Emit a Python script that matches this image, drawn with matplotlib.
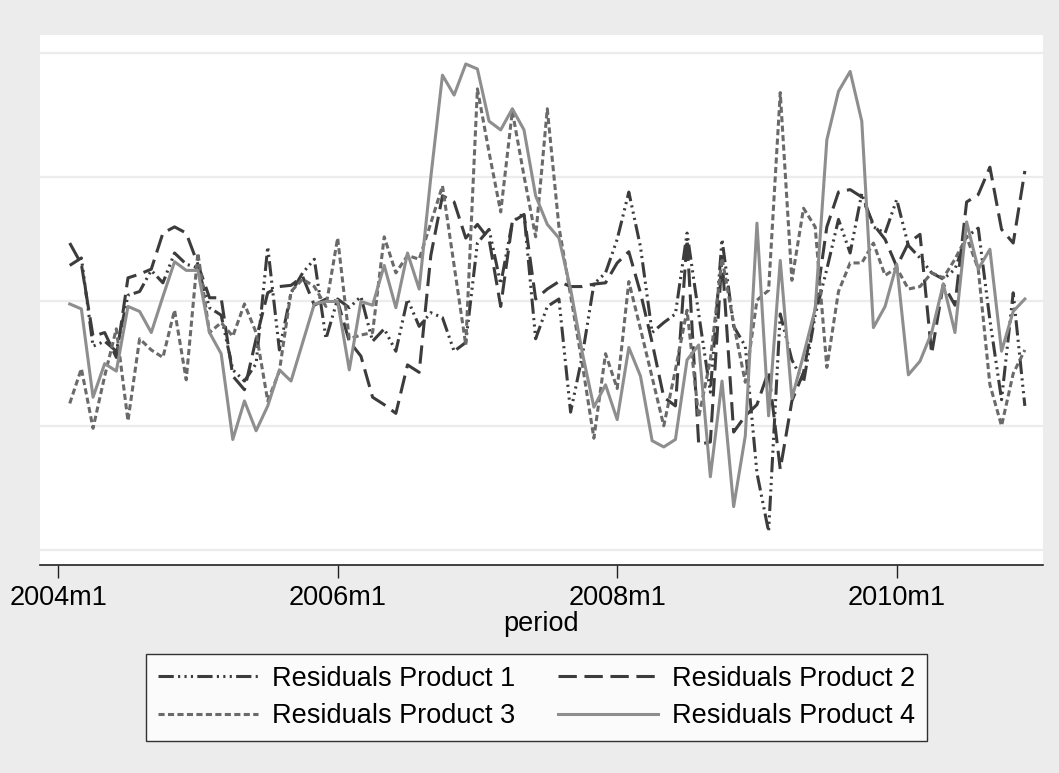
import numpy as np
import matplotlib
matplotlib.use("Agg")
import matplotlib.pyplot as plt

# monthly residuals, 2004m2 .. 2010m12 (month index 0 = 2004m1)
months = np.arange(1, 84)

resid_p1 = [0.29, 0.35, -0.36, -0.32, -0.40, 0.05, 0.08, 0.25, 0.15, 0.39,
            0.30, 0.27, -0.05, -0.11, -0.55, -0.64, -0.50, 0.44, -0.39, 0.07,
            0.23, 0.34, -0.30, 0.02, -0.05, 0.04, -0.32, -0.22, -0.40, 0.02,
            -0.20, -0.09, -0.13, -0.40, -0.33, 0.47, 0.58, 0.14, 0.64, 0.71,
            -0.30, -0.04, 0.02, -0.89, -0.44, 0.14, 0.23, 0.50, 0.88, 0.44,
            -0.25, -0.17, -0.10, 0.55, -0.10, -0.73, 0.50, -0.20, -0.36, -1.38,
            -1.85, -0.10, -0.47, -0.65, -0.11, 0.26, 0.66, 0.39, 0.87, 0.60,
            0.55, 0.82, 0.45, 0.35, 0.23, 0.18, 0.26, 0.52, 0.59, -0.15,
            -0.79, 0.07, -0.84]

resid_p2 = [0.47, 0.30, -0.28, -0.25, -0.45, 0.19, 0.22, 0.26, 0.55, 0.60,
            0.55, 0.30, 0.03, 0.03, -0.60, -0.71, -0.30, 0.07, 0.12, 0.13,
            0.20, -0.03, 0.02, 0.00, -0.32, -0.44, -0.77, -0.83, -0.90, -0.51,
            -0.57, 0.37, 0.85, 0.80, 0.51, 0.62, 0.50, -0.04, 0.64, 0.70,
            0.02, 0.10, 0.16, 0.12, 0.12, 0.14, 0.15, 0.31, 0.40, 0.07,
            -0.33, -0.77, -0.84, 0.50, -1.15, -1.13, 0.36, -1.05, -0.92, -0.83,
            -0.56, -1.35, -0.80, -0.57, -0.06, 0.60, 0.88, 0.90, 0.84, 0.62,
            0.50, 0.28, 0.47, 0.54, -0.42, 0.14, -0.03, 0.80, 0.86, 1.08,
            0.58, 0.47, 1.05]

resid_p3 = [-0.82, -0.54, -1.02, -0.60, -0.22, -0.96, -0.30, -0.39, -0.45, -0.07,
            -0.63, 0.39, -0.25, -0.17, -0.28, -0.02, -0.25, -0.80, -0.56, 0.08,
            0.18, 0.12, -0.04, 0.51, -0.30, -0.27, -0.25, 0.52, 0.23, 0.37,
            0.34, 0.63, 0.93, 0.29, -0.35, 1.71, 1.20, 0.72, 1.53, 1.01,
            0.52, 1.55, 0.60, 0.05, -0.50, -1.10, -0.42, -0.70, 0.16, -0.22,
            -0.61, -1.00, -0.55, -0.07, -0.93, -0.47, 0.35, -0.18, -0.65, 0.01,
            0.09, 1.68, 0.17, 0.75, 0.60, -0.53, 0.08, 0.31, 0.31, 0.47,
            0.21, 0.27, 0.10, 0.12, 0.23, 0.19, 0.34, 0.52, 0.26, -0.67,
            -1.00, -0.58, -0.39]

resid_p4 = [-0.02, -0.06, -0.77, -0.50, -0.56, -0.04, -0.08, -0.25, 0.04, 0.32,
            0.25, 0.25, -0.25, -0.42, -1.11, -0.80, -1.04, -0.84, -0.55, -0.64,
            -0.33, -0.02, 0.00, 0.00, -0.55, 0.00, -0.03, 0.29, -0.05, 0.39,
            0.10, 1.00, 1.82, 1.66, 1.91, 1.87, 1.45, 1.38, 1.55, 1.38,
            0.85, 0.62, 0.51, 0.10, -0.41, -0.85, -0.67, -0.95, -0.37, -0.60,
            -1.12, -1.17, -1.11, -0.47, -0.35, -1.41, -0.64, -1.65, -1.08, 0.63,
            -0.92, 0.33, -0.78, -0.43, -0.06, 1.30, 1.69, 1.85, 1.45, -0.21,
            -0.04, 0.30, -0.59, -0.48, -0.25, 0.14, -0.25, 0.64, 0.26, 0.42,
            -0.40, -0.08, 0.02]

labels = ["Residuals Product 1", "Residuals Product 2",
          "Residuals Product 3", "Residuals Product 4"]
tick_pos = [0, 24, 48, 72]
tick_labels = ["2004m1", "2006m1", "2008m1", "2010m1"]

plt.rcParams["font.family"] = ["Liberation Sans", "DejaVu Sans"]

fig = plt.figure(figsize=(10.59, 7.73), dpi=100, facecolor="#ececec")
ax = fig.add_axes([0.0378, 0.269, 0.947, 0.686])
ax.set_facecolor("white")

lw = 2.2
l1, = ax.plot(months, resid_p1, color="#3c3c3c", lw=lw,
              dashes=(5, 1.4, 0.7, 1.4, 0.7, 1.4, 0.7, 1.4))
l2, = ax.plot(months, resid_p2, color="#3c3c3c", lw=lw, dashes=(6, 2.5))
l3, = ax.plot(months, resid_p3, color="#6a6a6a", lw=lw, dashes=(2.0, 1.1))
l4, = ax.plot(months, resid_p4, color="#8e8e8e", lw=lw)

ax.set_xlim(-1.55, 84.55)
ax.set_ylim(-2.12, 2.145)
ax.set_yticks([-2, -1, 0, 1, 2])
ax.yaxis.grid(True, color="#ececec", lw=1.6)
ax.set_axisbelow(True)
ax.tick_params(axis="y", left=False, labelleft=False)

ax.set_xticks(tick_pos)
ax.set_xticklabels(tick_labels, fontsize=19.5)
ax.tick_params(axis="x", length=9, width=1, color="#222222", pad=5)
for side in ["top", "left", "right"]:
    ax.spines[side].set_visible(False)
ax.spines["bottom"].set_color("#222222")
ax.spines["bottom"].set_linewidth(1.2)
ax.set_xlabel("period", fontsize=19.5, labelpad=0)

# column-major fill -> order handles so rows read 1,2 / 3,4
handles = [l1, l3, l2, l4]
leg_labels = [labels[0], labels[2], labels[1], labels[3]]
leg = fig.legend(handles, leg_labels, loc="center", bbox_to_anchor=(0.5066, 0.0977),
                 ncol=2, fontsize=19.5, frameon=True, fancybox=False,
                 edgecolor="black", facecolor="white", handlelength=3.7,
                 handletextpad=0.5, columnspacing=1.6, labelspacing=0.42,
                 borderpad=0.45)
leg.get_frame().set_linewidth(1.0)

fig.savefig("out.png", dpi=100, facecolor=fig.get_facecolor())
